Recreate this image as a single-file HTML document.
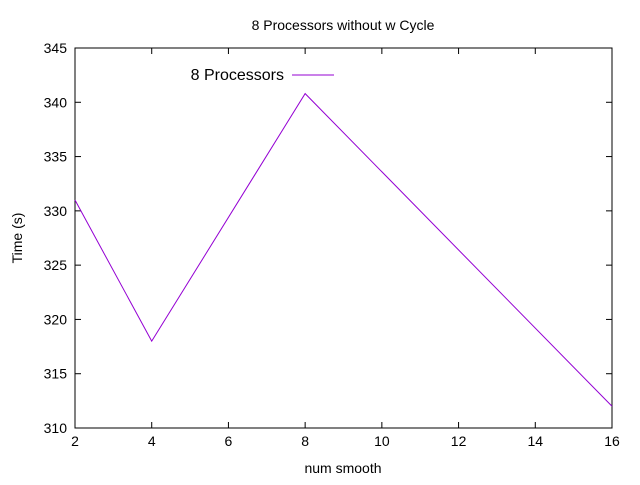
<!DOCTYPE html>
<html><head><meta charset="utf-8"><style>
body{margin:0;background:#fff}
text{font-family:"Liberation Sans",Arial,sans-serif;font-size:14px;fill:#000}
</style></head><body>
<svg id="chart" width="640" height="480"></svg>
<script>
const xCategories=[2,4,8,16];
const seriesValues=[331,318,340.8,312];
const xTicks=[2,4,6,8,10,12,14,16];
const yTicks=[310,315,320,325,330,335,340,345];
const L=75,R=612,T=48,B=428;
const xs=v=>L+(v-2)/(16-2)*(R-L);
const ys=v=>B-(v-310)/(345-310)*(B-T);
const svg=document.getElementById('chart');
const NS='http://www.w3.org/2000/svg';
function mk(tag,attrs,txt){const e=document.createElementNS(NS,tag);for(const k in attrs)e.setAttribute(k,attrs[k]);if(txt!==undefined)e.textContent=txt;svg.appendChild(e);return e;}
xTicks.forEach(t=>{const x=xs(t);
let a=mk('line',{x1:x,x2:x,y1:B,y2:B-6,stroke:'#000'});


mk('line',{x1:x,x2:x,y1:T,y2:T+6,stroke:'#000'});
let l=mk('text',{x:x,y:B+18,'text-anchor':'middle'},t);

});
yTicks.forEach(t=>{const y=ys(t);
let a=mk('line',{x1:L,x2:L+6,y1:y,y2:y,stroke:'#000'});


mk('line',{x1:R,x2:R-6,y1:y,y2:y,stroke:'#000'});
let l=mk('text',{x:L-8,y:y+5,'text-anchor':'end'},t);

});
const frame=mk('rect',{x:L,y:T,width:R-L,height:B-T,fill:'none',stroke:'#000'});


const pts=xCategories.map((c,i)=>xs(c)+','+ys(seriesValues[i])).join(' ');
const line=mk('polyline',{points:pts,fill:'none',stroke:'#9400d3','stroke-width':1});


const lt=mk('text',{x:284,y:80,'text-anchor':'end','font-size':'16'},'8 Processors');
lt.style.fontSize='16px';


const ll=mk('line',{x1:292,x2:334,y1:75,y2:75,stroke:'#9400d3'});


const ti=mk('text',{x:343,y:30,'text-anchor':'middle'},'8 Processors without w Cycle');


const xt=mk('text',{x:343,y:473,'text-anchor':'middle'},'num smooth');


const yt=mk('text',{x:22,y:238,'text-anchor':'middle',transform:'rotate(-90 22 238)'},'Time (s)');


</script>
</body></html>
